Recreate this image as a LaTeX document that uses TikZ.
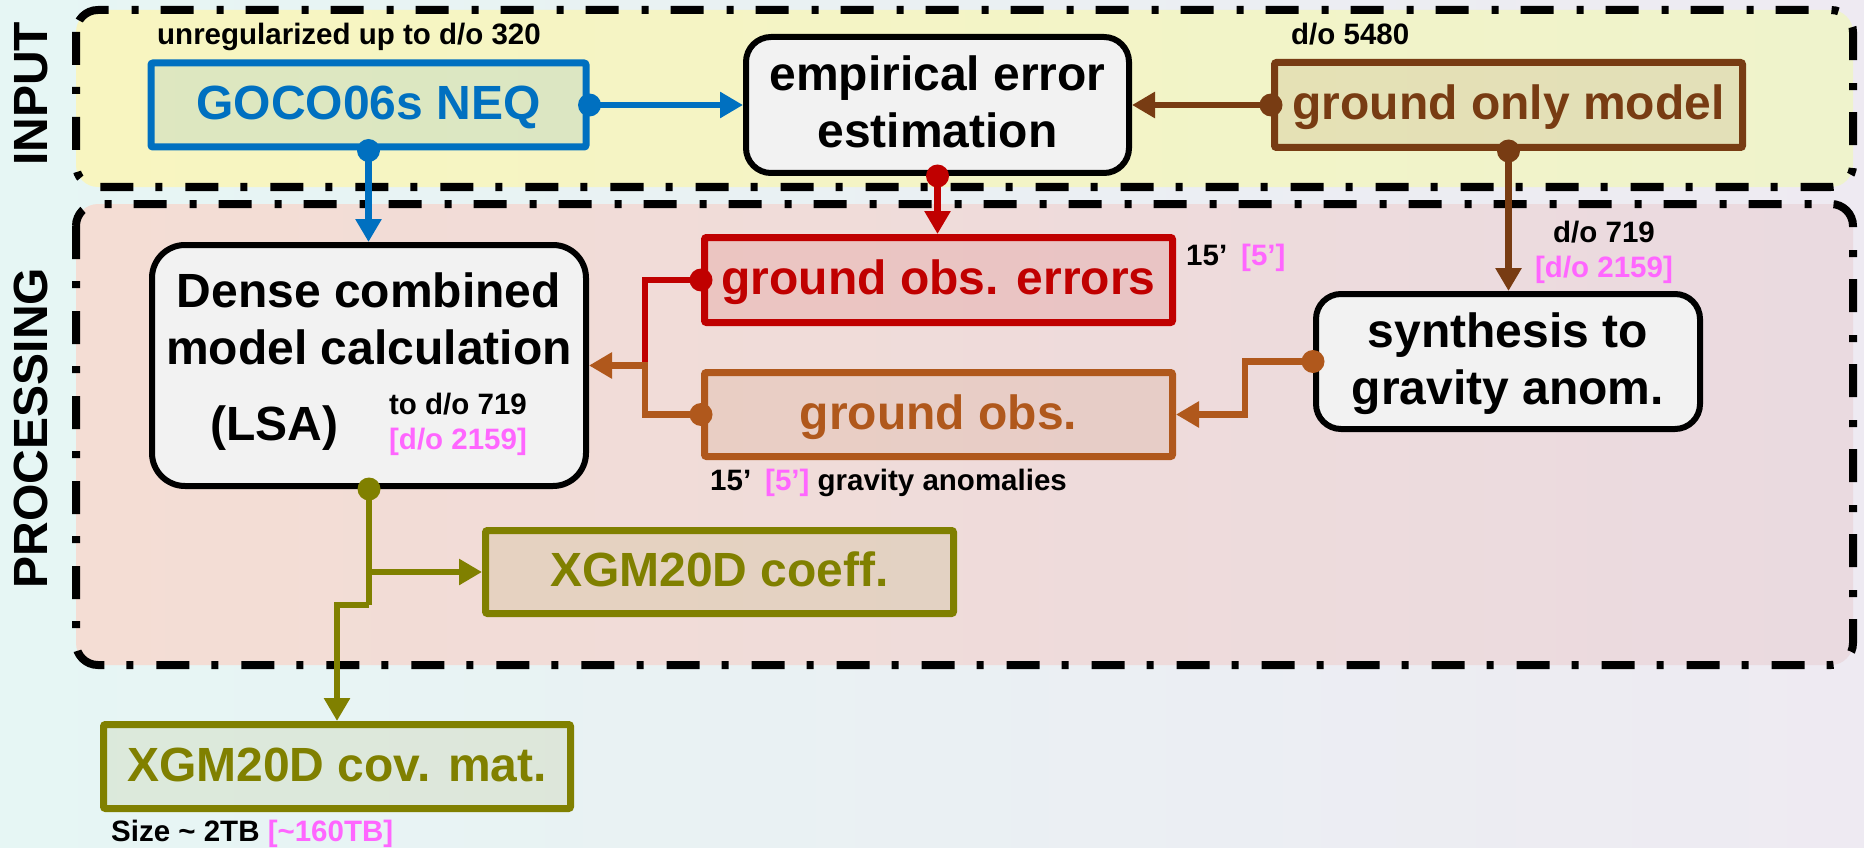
\documentclass[tikz,border=0pt]{standalone}
\usepackage{fontspec}
\setmainfont{Liberation Sans}
\usetikzlibrary{arrows.meta,calc}

\definecolor{cBlue}{HTML}{0070C0}
\definecolor{cBrown}{HTML}{783C13}
\definecolor{cRed}{HTML}{C00000}
\definecolor{cOrange}{HTML}{B0581C}
\definecolor{cOlive}{HTML}{808000}
\definecolor{cPink}{HTML}{FF66FF}
\definecolor{cPanel}{HTML}{F2F2F2}
\definecolor{bgLeft}{HTML}{E6F6F4}
\definecolor{bgMid}{HTML}{F7F4EA}
\definecolor{bgRight}{HTML}{EEEAF2}
\definecolor{inLeft}{HTML}{F8F5C0}
\definecolor{inRight}{HTML}{EFF3CC}
\definecolor{prLeft}{HTML}{F4DDD4}
\definecolor{prRight}{HTML}{EADAE0}

\begin{document}
\begin{tikzpicture}[x=1pt,y=-1pt,
  big/.style={font=\bfseries\fontsize{48}{57}\selectfont, inner sep=0pt},
  small/.style={font=\bfseries\fontsize{29.5}{35}\selectfont, inner sep=0pt},
  colbox/.style={draw=#1, line width=7pt, fill=#1, fill opacity=0.1,
    draw opacity=1, text opacity=1, text=#1, big, rounded corners=2pt,
    text height=29pt, text depth=0pt},
  greybox/.style={draw=black, line width=6pt, fill=cPanel, inner sep=0pt},
  wire/.style={line width=6.5pt},
  tipped/.style={-{Triangle[length=23pt,width=25pt]}},
  frame/.style={line width=8pt, dash pattern=on 33pt off 22pt on 7pt off 23pt,
    rounded corners=22pt},
  side/.style={font=\bfseries\fontsize{48}{48}\selectfont, rotate=90, inner sep=0pt},
]
\useasboundingbox (0,0) rectangle (1864,848);

% soft pastel backdrop
\shade[left color=bgLeft, middle color=bgMid, right color=bgRight] (0,0) rectangle (1864,848);

% stage frames
\path[frame, draw=black, left color=inLeft, right color=inRight]
  (76,10) rectangle (1853,187);
\path[frame, draw=black, left color=prLeft, right color=prRight]
  (76,204) rectangle (1853,665);
\node[side] (input-lab) at (31,94) {INPUT};
\node[side] (proc-lab) at (31,428) {PROCESSING};

% input models
\node[colbox=cBlue, minimum width=435pt, minimum height=84pt] (goco) at (368.5,105) {GOCO06s NEQ};
\node[colbox=cBrown, minimum width=468pt, minimum height=85pt] (ground) at (1508.5,105) {ground only model};
\node[greybox, rounded corners=25pt, minimum width=383pt, minimum height=136pt] (emp) at (937.5,105) {};
\node[big, anchor=base] (emp-t1) at (937.5,91) {empirical error};
\node[big, anchor=base] (emp-t2) at (937.5,148) {estimation};
\node[small, anchor=base west] (goco-note) at (157,45) {unregularized up to d/o 320};
\node[small, anchor=base west] (ground-note) at (1291,45) {d/o 5480};

% processing steps
\node[greybox, rounded corners=33pt, minimum width=434pt, minimum height=241pt] (dense) at (369,365.5) {};
\node[big, anchor=base] (dense-t1) at (369,307) {Dense combined};
\node[big, anchor=base] (dense-t2) at (369,364) {model calculation};
\node[big, anchor=base] (dense-t3) at (274,440) {(LSA)};
\node[small, anchor=base] (dense-do) at (458,414) {to d/o 719};
\node[small, anchor=base, text=cPink] (dense-do2) at (458,449) {[d/o 2159]};

\node[colbox=cRed, minimum width=468pt, minimum height=85pt] (errs) at (938.5,280) {ground obs. errors};
\node[colbox=cOrange, minimum width=468pt, minimum height=84pt] (obs) at (938.5,414.5) {ground obs.};
\node[small, anchor=base west] (errs-res) at (1186,265) {15’\hspace{14pt}\textcolor{cPink}{[5’]}};
\node[small, anchor=base west] (obs-res) at (710,490) {15’\hspace{14pt}\textcolor{cPink}{[5’]} gravity anomalies};

\node[greybox, rounded corners=25pt, minimum width=384pt, minimum height=135pt] (synth) at (1508,361.5) {};
\node[big, anchor=base] (synth-t1) at (1508,347) {synthesis to};
\node[big, anchor=base] (synth-t2) at (1508,404) {gravity anom.};
\node[small, anchor=base] (synth-do) at (1604,242) {d/o 719};
\node[small, anchor=base, text=cPink] (synth-do2) at (1604,277) {[d/o 2159]};

% products
\node[colbox=cOlive, minimum width=468pt, minimum height=83pt] (coeff) at (719.5,572) {XGM20D coeff.};
\node[colbox=cOlive, minimum width=467pt, minimum height=84pt] (cov) at (337,766.5) {XGM20D cov. mat.};
\node[small, anchor=base west] (cov-size) at (111,841) {Size \textasciitilde{} 2TB \textcolor{cPink}{[\textasciitilde160TB]}};

% connectors
\coordinate (merge) at (645,365.5);
\coordinate (split) at (dense.south |- coeff.west);
\coordinate (step) at (369,605);

\draw[wire, tipped, cBlue] (goco.east) -- (emp.west);
\draw[wire, tipped, cBlue] (goco.south) -- (goco.south |- dense.north);
\draw[wire, tipped, cBrown] (ground.west) -- (emp.east);
\draw[wire, tipped, cBrown] (ground.south) -- (ground.south |- synth.north);
\draw[wire, tipped, cRed] (emp.south) -- (emp.south |- errs.north);
\draw[wire, tipped, cOrange] (synth.west) -- ++(-68,0) |- (obs.east);
\draw[wire, cRed] (errs.west) -| (merge);
\draw[wire, tipped, cOrange] (obs.west) -| (merge) -- (dense.east);
\draw[wire, cOlive] (dense.south) -- (step);
\draw[wire, tipped, cOlive] (step) -| (cov.north);
\draw[wire, tipped, cOlive] (split) -- (coeff.west);

% junction dots
\fill[cBlue] (goco.east) circle[radius=11.5pt];
\fill[cBlue] (goco.south) circle[radius=11.5pt];
\fill[cBrown] (ground.west) circle[radius=11.5pt];
\fill[cBrown] (ground.south) circle[radius=11.5pt];
\fill[cRed] (emp.south) circle[radius=11.5pt];
\fill[cOrange] (synth.west) circle[radius=11.5pt];
\fill[cRed] (errs.west) circle[radius=11.5pt];
\fill[cOrange] (obs.west) circle[radius=11.5pt];
\fill[cOlive] (dense.south) circle[radius=11.5pt];
\end{tikzpicture}
\end{document}
